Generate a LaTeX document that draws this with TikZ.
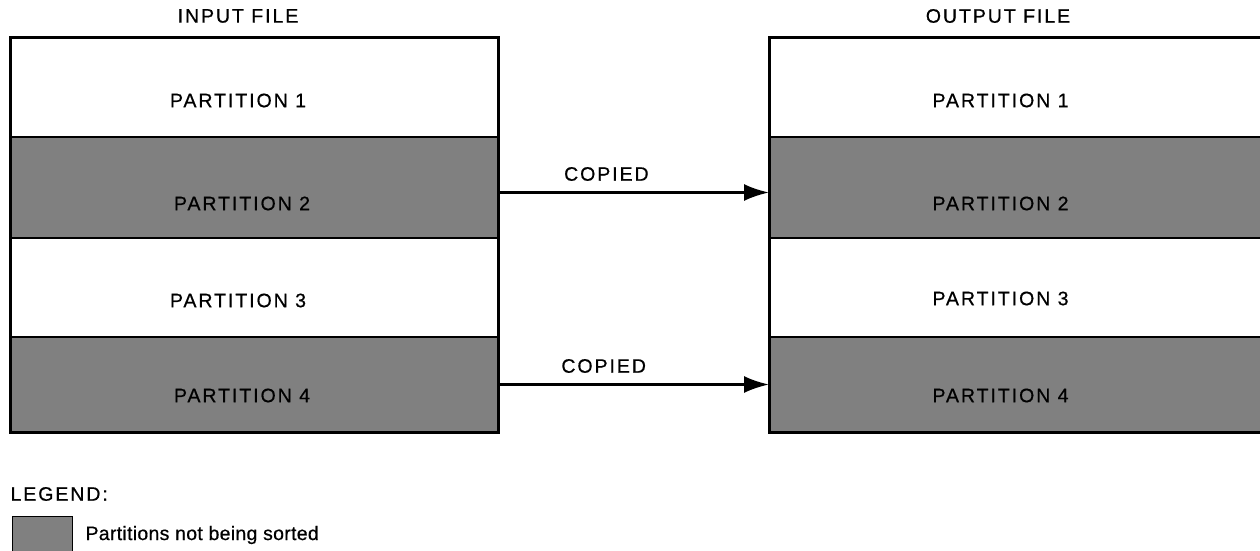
\documentclass[tikz,border=0pt]{standalone}
\usepackage{fontspec}
\setmainfont{Liberation Sans}[FakeBold=0.6]
\usetikzlibrary{arrows.meta}
\newcommand{\capsfont}{\fontsize{19.5pt}{21pt}\selectfont\addfontfeature{LetterSpace=10}}
\begin{document}
\begin{tikzpicture}[x=1pt,y=-1pt,
  part/.style={draw=black, line width=2.2pt, minimum width=#1, inner sep=0pt, outer sep=0pt,
               anchor=north west},
  plain/.style={fill=white},
  shaded/.style={fill=black!50},
  ptext/.style={font=\capsfont, text=black},
  stext/.style={font=\capsfont, text=black},
  frame/.style={draw=black, line width=3pt},
  arr/.style={line width=2.5pt, -{Latex[length=25pt,width=17pt]}},
  hdr/.style={font=\capsfont}]
\useasboundingbox (0,0) rectangle (1260,551);
\clip (0,0) rectangle (1260,551);

% input file
\node[hdr] (inhdr) at (238,16) {INPUT FILE};
\node[part=488pt, plain,  minimum height=99pt]  (i1) at (10,38)  {};
\node[part=488pt, shaded, minimum height=101pt] (i2) at (10,137) {};
\node[part=488pt, plain,  minimum height=99pt]  (i3) at (10,238) {};
\node[part=488pt, shaded, minimum height=95pt]  (i4) at (10,337) {};
\draw[frame] (i1.north west) rectangle (i4.south east);
\node[ptext] at ([xshift=-16pt,yshift=-13pt]i1.center) {PARTITION 1};
\node[stext] at ([xshift=-12pt,yshift=-16pt]i2.center) {PARTITION 2};
\node[ptext] at ([xshift=-16pt,yshift=-13pt]i3.center) {PARTITION 3};
\node[stext] at ([xshift=-12pt,yshift=-11pt]i4.center) {PARTITION 4};

% output file
\node[hdr] (outhdr) at (998,16) {OUTPUT FILE};
\node[part=495pt, plain,  minimum height=99pt]  (o1) at (769,38)  {};
\node[part=495pt, shaded, minimum height=101pt] (o2) at (769,137) {};
\node[part=495pt, plain,  minimum height=99pt]  (o3) at (769,238) {};
\node[part=495pt, shaded, minimum height=95pt]  (o4) at (769,337) {};
\draw[frame] (o1.north west) rectangle (o4.south east);
\node[ptext] at ([xshift=-16pt,yshift=-13pt]o1.center) {PARTITION 1};
\node[stext] at ([xshift=-16pt,yshift=-16pt]o2.center) {PARTITION 2};
\node[ptext] at ([xshift=-16pt,yshift=-11pt]o3.center) {PARTITION 3};
\node[stext] at ([xshift=-16pt,yshift=-11pt]o4.center) {PARTITION 4};

% copy arrows
\draw[arr] ([yshift=-5pt]i2.east) -- ([yshift=-5pt]o2.west)
  node[pos=0.4, above=7pt, font=\capsfont] {COPIED};
\draw[arr] (i4.east) -- (o4.west)
  node[pos=0.39, above=7pt, font=\capsfont] {COPIED};

% legend
\node[font=\capsfont, anchor=west] (leg) at (7,494) {LEGEND:};
\node[draw=black, line width=1.4pt, fill=black!50, minimum width=60pt, minimum height=44pt,
      inner sep=0pt, anchor=north west] (swatch) at (12,516) {};
\node[font=\fontsize{19.5pt}{21pt}\selectfont\addfontfeature{LetterSpace=1.5}, anchor=west]
  (legtext) at (82,535) {Partitions not being sorted};
\end{tikzpicture}
\end{document}
